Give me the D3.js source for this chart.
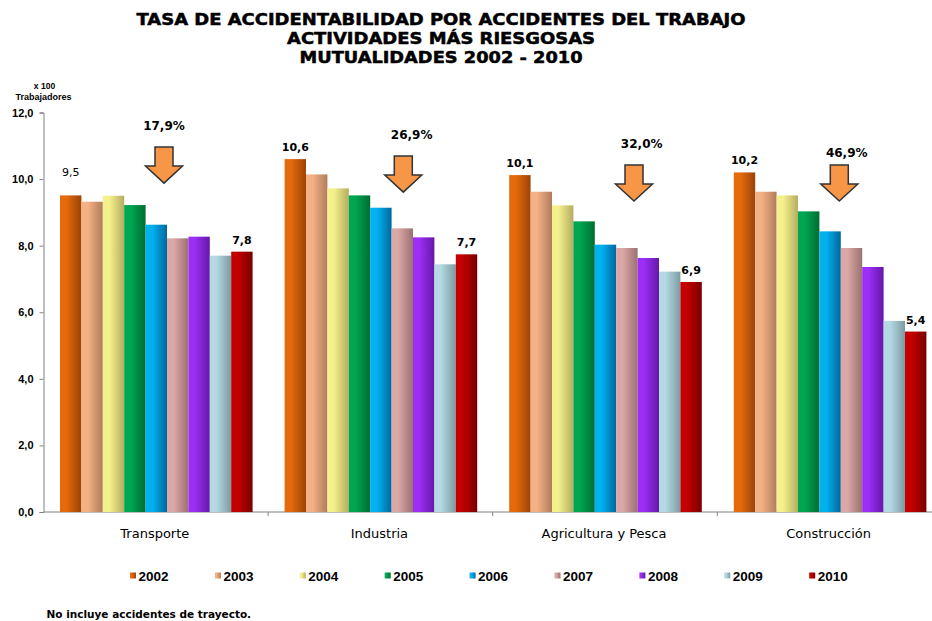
<!DOCTYPE html>
<html>
<head>
<meta charset="utf-8">
<script src="https://cdn.jsdelivr.net/npm/d3@7"></script>
<style>
    body { margin: 0; background: #fff; }
    svg { display: block; }
</style>
</head>
<body>
<div id="chart-area"></div>
<script>
/* * * * * * * * * * * * * * * * *
 *   Tasa de accidentabilidad    *
 * * * * * * * * * * * * * * * * */

// data (x 100 trabajadores)
const categories = ["Transporte", "Industria", "Agricultura y Pesca", "Construcción"];
const years = ["2002", "2003", "2004", "2005", "2006", "2007", "2008", "2009", "2010"];

const transporte   = [9.51, 9.32, 9.50, 9.22, 8.63, 8.22, 8.27, 7.70, 7.82];
const industria    = [10.60, 10.14, 9.72, 9.51, 9.14, 8.52, 8.25, 7.44, 7.74];
const agricultura  = [10.12, 9.62, 9.21, 8.73, 8.03, 7.93, 7.63, 7.22, 6.91];
const construccion = [10.20, 9.62, 9.51, 9.03, 8.43, 7.93, 7.36, 5.74, 5.42];

// drop 2002 -> 2010, in percent
const declines = [17.9, 26.9, 32.0, 46.9];

const yTicks = [0, 2, 4, 6, 8, 10, 12];

const titleLines = [
    "TASA DE ACCIDENTABILIDAD POR ACCIDENTES DEL TRABAJO",
    "ACTIVIDADES MÁS RIESGOSAS",
    "MUTUALIDADES 2002 - 2010"
];

class GroupedBarChart {
    constructor(_parentElement) {
        this.parentElement = _parentElement;
        this.initVis();
    }

    initVis() {
        let vis = this;

        vis.width = 932;
        vis.height = 621;

        vis.svg = d3.select("#" + vis.parentElement)
            .append("svg")
            .attr("width", vis.width)
            .attr("height", vis.height);

        // bar colours: bright left edge, darker right edge
        vis.light = ["#e56a0c", "#f4b184", "#f4f08c", "#00a651", "#00b2f0", "#dba8a6", "#9b2ff5", "#b4d9e2", "#c40000"];
        vis.dark  = ["#9c4306", "#b07c5c", "#b4ad60", "#006d33", "#0068a0", "#9a7170", "#6617a8", "#7c9ba3", "#780000"];

        let defs = vis.svg.append("defs");
        years.forEach((yr, i) => {
            let g = defs.append("linearGradient")
                .attr("id", "grad" + yr)
                .attr("x1", "0%").attr("x2", "100%")
                .attr("y1", "0%").attr("y2", "0%");
            g.append("stop").attr("offset", "0%").attr("stop-color", vis.light[i]);
            g.append("stop").attr("offset", "30%").attr("stop-color", vis.light[i]);
            g.append("stop").attr("offset", "100%").attr("stop-color", vis.dark[i]);
        });

        // scales
        vis.x0 = d3.scaleBand()
            .domain(categories)
            .range([43.5, 43.5 + 4 * 224.6])
            .padding(0);

        vis.x1 = d3.scaleBand()
            .domain(years)
            .range([16.5, 16.5 + 9 * 21.4])
            .padding(0);

        vis.y = d3.scaleLinear()
            .domain([0, 12])
            .range([512, 112.5]);

        this.wrangleData();
    }

    wrangleData() {
        let vis = this;

        let series = [transporte, industria, agricultura, construccion];
        vis.groups = categories.map((cat, i) => ({
            category: cat,
            decline: declines[i],
            values: years.map((yr, j) => ({ year: yr, value: series[i][j] }))
        }));

        this.updateVis();
    }

    updateVis() {
        let vis = this;
        let comma = v => d3.format(".1f")(v).replace(".", ",");

        // title
        vis.svg.append("g")
            .selectAll("text")
            .data(titleLines)
            .join("text")
            .attr("x", 441)
            .attr("y", (d, i) => [25, 43.75, 62.5][i])
            .attr("text-anchor", "middle")
            .attr("font-family", "DejaVu Sans, Verdana, sans-serif")
            .attr("font-weight", "bold")
            .attr("font-size", 16)
            .attr("textLength", (d, i) => [609, 308, 283][i])
            .attr("lengthAdjust", "spacingAndGlyphs")
            .attr("stroke", "#000")
            .attr("stroke-width", 0.5)
            .attr("fill", "#000")
            .text(d => d);

        // unit label
        vis.svg.append("text")
            .attr("x", 44.5).attr("y", 89)
            .attr("text-anchor", "middle")
            .attr("font-family", "Liberation Sans, Arial, sans-serif")
            .attr("font-weight", "bold")
            .attr("font-size", 8.5)
            .text("x 100");
        vis.svg.append("text")
            .attr("x", 43.5).attr("y", 100)
            .attr("text-anchor", "middle")
            .attr("font-family", "Liberation Sans, Arial, sans-serif")
            .attr("font-weight", "bold")
            .attr("font-size", 9)
            .text("Trabajadores");

        // Y axis
        let yAxis = vis.svg.append("g")
            .attr("transform", "translate(" + vis.x0.range()[0] + ",0)")
            .call(d3.axisLeft(vis.y)
                .tickValues(yTicks)
                .tickSize(4)
                .tickPadding(6)
                .tickFormat(comma));
        yAxis.select(".domain").attr("stroke", "#808080");
        yAxis.selectAll(".tick line").attr("stroke", "#808080");
        yAxis.selectAll("text")
            .attr("font-family", "Liberation Sans, Arial, sans-serif")
            .attr("font-weight", "bold")
            .attr("font-size", 11)
            .attr("fill", "#000");

        // X axis (ticks between groups)
        let xAxis = vis.svg.append("g")
            .attr("transform", "translate(0," + vis.y(0) + ")");
        xAxis.append("line")
            .attr("x1", vis.x0.range()[0]).attr("x2", vis.width)
            .attr("stroke", "#808080");
        xAxis.selectAll(".sep")
            .data(categories.slice(1))
            .join("line")
            .attr("class", "sep")
            .attr("x1", d => vis.x0(d)).attr("x2", d => vis.x0(d))
            .attr("y1", 0).attr("y2", 4)
            .attr("stroke", "#808080");
        xAxis.selectAll(".cat")
            .data(categories)
            .join("text")
            .attr("class", "cat")
            .attr("x", d => vis.x0(d) + vis.x0.bandwidth() / 2 - 1)
            .attr("y", 26)
            .attr("text-anchor", "middle")
            .attr("font-family", "DejaVu Sans, Tahoma, sans-serif")
            .attr("font-size", 13)
            .attr("fill", "#000")
            .text(d => d);

        // bars
        let group = vis.svg.selectAll(".group")
            .data(vis.groups)
            .join("g")
            .attr("class", "group")
            .attr("transform", d => "translate(" + vis.x0(d.category) + ",0)");

        group.selectAll("rect")
            .data(d => d.values)
            .join("rect")
            .attr("x", d => vis.x1(d.year))
            .attr("y", d => vis.y(d.value))
            .attr("width", vis.x1.bandwidth())
            .attr("height", d => vis.y(0) - vis.y(d.value))
            .attr("fill", d => "url(#grad" + d.year + ")");

        // first and last value labels
        group.append("text")
            .attr("x", d => vis.x1(years[0]) + vis.x1.bandwidth() / 2)
            .attr("y", d => vis.y(d.values[0].value) - (d.category === "Transporte" ? 19 : 8))
            .attr("text-anchor", "middle")
            .attr("font-family", "DejaVu Sans, Verdana, sans-serif")
            .attr("font-weight", d => d.category === "Transporte" ? "normal" : "bold")
            .attr("font-size", 11)
            .text(d => comma(d.values[0].value));

        group.append("text")
            .attr("x", d => vis.x1(years[8]) + vis.x1.bandwidth() / 2)
            .attr("y", d => vis.y(d.values[8].value) - 8)
            .attr("text-anchor", "middle")
            .attr("font-family", "DejaVu Sans, Verdana, sans-serif")
            .attr("font-weight", "bold")
            .attr("font-size", 11)
            .text(d => comma(d.values[8].value));

        // down arrows with the drop in percent
        // arrow centre (px from group start), arrow top and label baseline (in y units)
        let arrowLayout = [
            { cx: 120.5, top: 10.96, lx: 120.5, ly: 11.46 },
            { cx: 135.2, top: 10.69, lx: 143.6, ly: 11.19 },
            { cx: 141.3, top: 10.42, lx: 149.0, ly: 10.92 },
            { cx: 122.0, top: 10.42, lx: 129.4, ly: 10.67 }
        ];

        group.append("path")
            .attr("d", (d, i) => {
                let cx = arrowLayout[i].cx, t = vis.y(arrowLayout[i].top);
                return "M" + (cx - 9) + "," + t + "L" + (cx + 9) + "," + t +
                    "L" + (cx + 9) + "," + (t + 19) + "L" + (cx + 18.5) + "," + (t + 19) +
                    "L" + cx + "," + (t + 36) + "L" + (cx - 18.5) + "," + (t + 19) +
                    "L" + (cx - 9) + "," + (t + 19) + "Z";
            })
            .attr("fill", "#f79646")
            .attr("stroke", "#333")
            .attr("stroke-width", 1.5)
            .attr("stroke-linejoin", "miter");

        group.append("text")
            .attr("x", (d, i) => arrowLayout[i].lx)
            .attr("y", (d, i) => vis.y(arrowLayout[i].ly))
            .attr("text-anchor", "middle")
            .attr("font-family", "DejaVu Sans, Verdana, sans-serif")
            .attr("font-weight", "bold")
            .attr("font-size", 12)
            .text(d => comma(d.decline) + "%");

        // legend
        let legend = vis.svg.append("g")
            .selectAll("g")
            .data(years)
            .join("g")
            .attr("transform", (d, i) => "translate(" + (130 + i * 84.9) + ",572.5)");
        legend.append("rect")
            .attr("width", 6).attr("height", 6)
            .attr("fill", d => "url(#grad" + d + ")");
        legend.append("text")
            .attr("x", 8.5).attr("y", 8.2)
            .attr("font-family", "Liberation Sans, Arial, sans-serif")
            .attr("font-weight", "bold")
            .attr("font-size", 13.5)
            .text(d => d);

        // footnote
        vis.svg.append("text")
            .attr("x", 46.5).attr("y", 617.5)
            .attr("font-family", "DejaVu Sans, Verdana, sans-serif")
            .attr("font-weight", "bold")
            .attr("font-size", 10.5)
            .text("No incluye accidentes de trayecto.");
    }
}

new GroupedBarChart("chart-area");
</script>
</body>
</html>
